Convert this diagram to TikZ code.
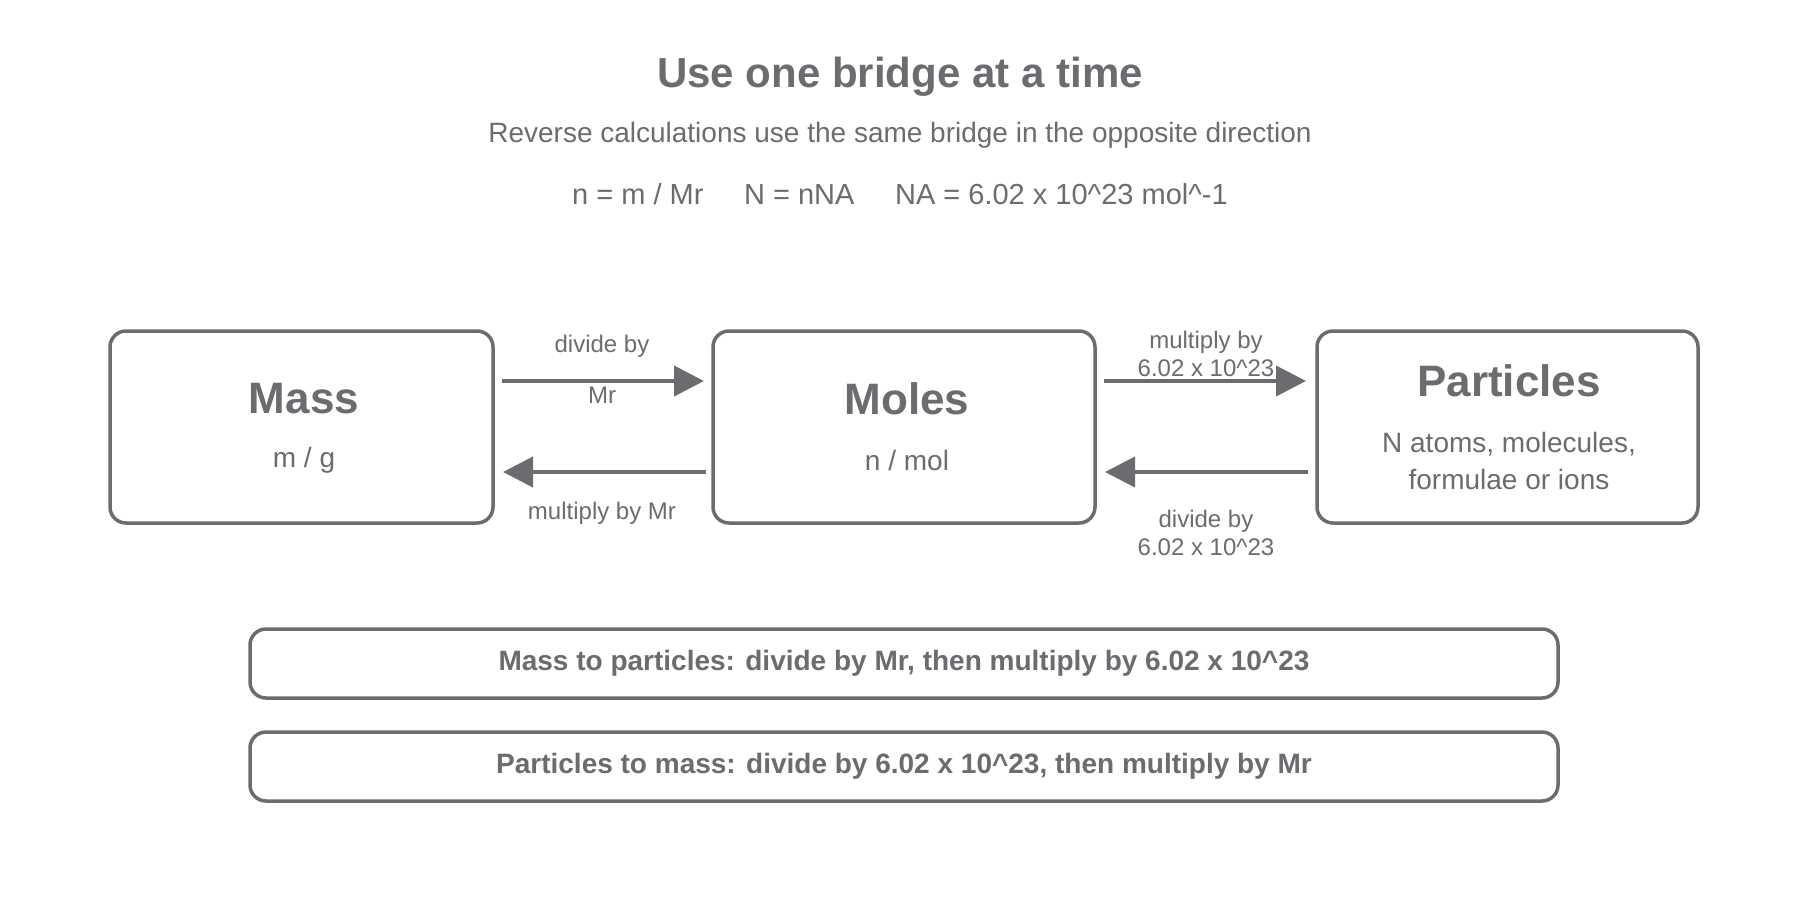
\documentclass[tikz,border=0pt]{standalone}
\usepackage{fontspec}
\setmainfont{Liberation Sans}
\usetikzlibrary{arrows.meta}
\definecolor{g}{HTML}{6B6B70}
\begin{document}
\begin{tikzpicture}[x=0.5pt,y=-0.5pt,
  box/.style={draw=g,line width=1.75pt,rounded corners=8pt,fill=white},
  arr/.style={draw=g,line width=2pt,-{Triangle[length=15pt,width=15pt]}},
  lab/.style={text=g,font=\fontsize{12}{14}\selectfont,align=center},
  every node/.style={text=g}]
\useasboundingbox (0,0) rectangle (1800,900);
\node[font=\fontsize{21}{25}\selectfont\bfseries] (t) at (900,77) {Use one bridge at a time};
\node[font=\fontsize{14}{17}\selectfont] (s) at (900,135) {Reverse calculations use the same bridge in the opposite direction};
\node[font=\fontsize{14.5}{17}\selectfont] (f) at (900,194) {n = m / Mr\hspace{1.4em}N = nNA\hspace{1.4em}NA = 6.02 x 10\^{}23 mol\^{}-1};
\draw[box] (110,331) rectangle (493,523);
\draw[box] (713,331) rectangle (1095,523);
\draw[box] (1317,331) rectangle (1698,523);
\node (mass) at (301.5,427) {};
\node (moles) at (904,427) {};
\node (part) at (1507.5,427) {};
\node[font=\fontsize{22}{26}\selectfont\bfseries] (mt) at (304,399) {Mass};
\node[font=\fontsize{14}{17}\selectfont] (ms) at (304,460) {m / g};
\node[font=\fontsize{22}{26}\selectfont\bfseries] (ot) at (907,399) {Moles};
\node[font=\fontsize{14}{17}\selectfont] (os) at (907,460) {n / mol};
\node[font=\fontsize{22}{26}\selectfont\bfseries] (pt) at (1509,381) {Particles};
\node[font=\fontsize{14}{18.5}\selectfont,align=center] (ps) at (1509,461) {N atoms, molecules,\\formulae or ions};
\coordinate (a1) at (502,381); \coordinate (a2) at (704,381);
\coordinate (b1) at (706,472); \coordinate (b2) at (503,472);
\coordinate (c1) at (1104,381); \coordinate (c2) at (1306,381);
\coordinate (d1) at (1308,472); \coordinate (d2) at (1105,472);
\draw[arr] (a1) -- (a2);
\draw[arr] (b1) -- (b2);
\draw[arr] (c1) -- (c2);
\draw[arr] (d1) -- (d2);
\node[lab] (l1) at (602,346) {divide by};
\node[lab] (l2) at (602,395) {Mr};
\node[lab] (l3) at (602,513) {multiply by Mr};
\node[lab,fill=white,inner sep=1pt] (l4) at (1206,354) {multiply by\\6.02 x 10\^{}23};
\node[lab] (l5) at (1206,533) {divide by\\6.02 x 10\^{}23};
\node[box,minimum width=654pt,minimum height=34.5pt,font=\fontsize{14}{17}\selectfont\bfseries] (r1) at (904,663.5) {Mass to particles: divide by Mr, then multiply by 6.02 x 10\^{}23};
\node[box,minimum width=654pt,minimum height=34.5pt,font=\fontsize{14}{17}\selectfont\bfseries] (r2) at (904,766.5) {Particles to mass: divide by 6.02 x 10\^{}23, then multiply by Mr};
\end{tikzpicture}
\end{document}
